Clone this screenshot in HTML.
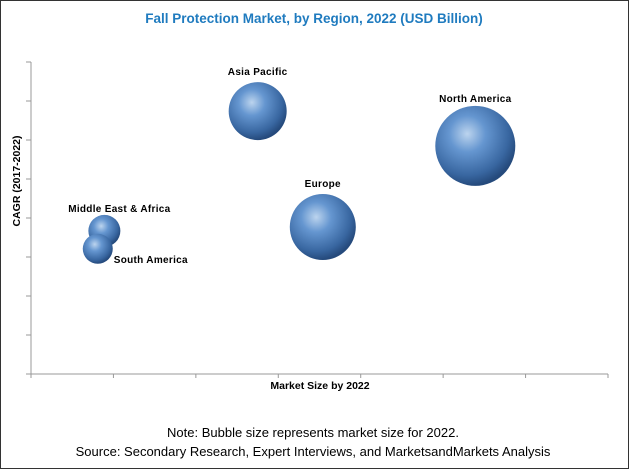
<!DOCTYPE html>
<html><head><meta charset="utf-8"><style>
body{margin:0;background:#fff}
#w{position:relative;width:627px;height:467px;border:1px solid #333;background:#fff;font-family:"Liberation Sans",sans-serif;overflow:hidden}
</style></head><body>
<div id="w">
<svg id="c" width="627" height="467">
<defs><radialGradient id="g" cx="0.4" cy="0.35" r="0.65">
<stop offset="0" stop-color="#bcd4ee"/><stop offset="0.35" stop-color="#6596d0"/><stop offset="0.8" stop-color="#3866a0"/><stop offset="1" stop-color="#254a7c"/></radialGradient></defs>
<text x="313" y="22" text-anchor="middle" font-size="13.5" font-weight="bold" fill="#1f7bbf">Fall Protection Market, by Region, 2022 (USD Billion)</text>
<text transform="translate(19,180) rotate(-90)" text-anchor="middle" font-size="10.5" font-weight="bold" fill="#000">CAGR (2017-2022)</text>
<text x="319" y="388" text-anchor="middle" font-size="10.5" font-weight="bold" fill="#000">Market Size by 2022</text>
<text x="312" y="436" text-anchor="middle" font-size="13" fill="#000">Note: Bubble size represents market size for 2022.</text>
<text x="312" y="455" text-anchor="middle" font-size="13" fill="#000">Source: Secondary Research, Expert Interviews, and MarketsandMarkets Analysis</text>
<g id="axes"></g><g id="marks"></g>
</svg></div>
<script>
const regions=["Asia Pacific","North America","Europe","Middle East & Africa","South America"];
const marketSize=[2.75,5.39,3.54,0.89,0.81];
const cagr=[6.74,5.85,3.77,3.67,3.21];
const bubbleSize=[29,40,33,16,15];
const ns="http://www.w3.org/2000/svg";
const X0=30,X1=607,Y0=373,Y1=61,XMAX=7,YMAX=8;
const xs=v=>X0+v/XMAX*(X1-X0), ys=v=>Y0-v/YMAX*(Y0-Y1);
function mk(t,a,p){const e=document.createElementNS(ns,t);for(const k in a)e.setAttribute(k,a[k]);p.appendChild(e);return e;}
const ax=document.getElementById('axes'),mg=document.getElementById('marks');
let l=mk('line',{x1:X0,y1:Y1,x2:X0,y2:Y0,stroke:'#999'},ax);


l=mk('line',{x1:X0,y1:Y0,x2:X1,y2:Y0,stroke:'#999'},ax);


for(let i=0;i<=YMAX;i++){const t=mk('line',{x1:X0-5,x2:X0,y1:ys(i),y2:ys(i),stroke:'#999'},ax);

}
for(let i=0;i<=XMAX;i++){const t=mk('line',{x1:xs(i),x2:xs(i),y1:Y0,y2:Y0+4,stroke:'#999'},ax);

}
const lab=[[0,-36,'middle'],[0,-44,'middle'],[0,-40,'middle'],[15,-19,'middle'],[16,14,'start']];
regions.forEach((r,i)=>{const cx=xs(marketSize[i]),cy=ys(cagr[i]);
const c=mk('circle',{cx:cx,cy:cy,r:bubbleSize[i],fill:'url(#g)'},mg);


const t=mk('text',{x:cx+lab[i][0],y:cy+lab[i][1],'text-anchor':lab[i][2],'font-size':'10','font-weight':'bold','letter-spacing':'0.3',fill:'#000'},mg);
t.textContent=r;

});
</script>
</body></html>
